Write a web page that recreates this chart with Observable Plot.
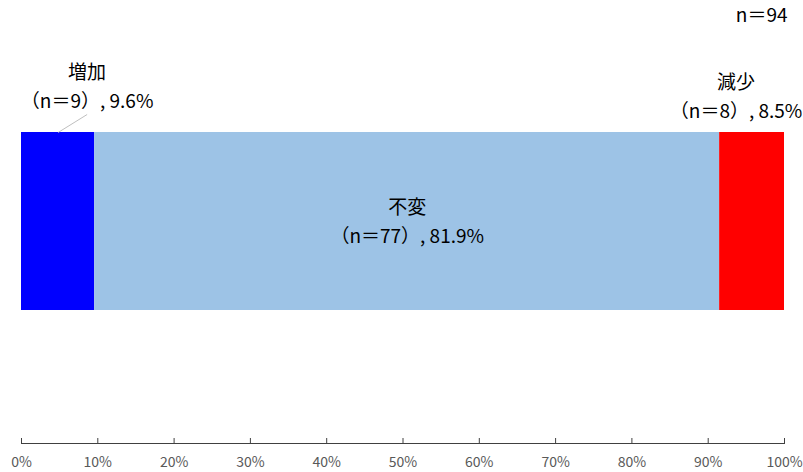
<!DOCTYPE html>
<html><head><meta charset="utf-8">
<script src="https://cdn.jsdelivr.net/npm/d3@7"></script>
<script src="https://cdn.jsdelivr.net/npm/@observablehq/plot@0.6"></script>
<style>
body{margin:0;background:#fff;}
svg{font-family:"Noto Sans CJK JP","Noto Sans",sans-serif;}
</style>
</head><body><div id="chart"></div>
<script>
const categories = ["増加", "不変", "減少"];
const counts = [9, 77, 8];
const shares = [0.096, 0.819, 0.085];
const colors = ["#0000FF", "#9DC3E6", "#FF0000"];
const total = 94;
const ticks = [0,0.1,0.2,0.3,0.4,0.5,0.6,0.7,0.8,0.9,1];

let acc = 0;
const data = categories.map((c, i) => {
  const d = {cat: c, n: counts[i], share: shares[i], x1: acc, x2: acc + shares[i],
    label: `${c}\n（n＝${counts[i]}）, ${(shares[i]*100).toFixed(1)}%`};
  acc += shares[i];
  return d;
});
// label placement (pixels) relative to the segment midpoint at the bar top / centre
const layout = {
  "増加": {dx: 29, dy: -48, y: 1},
  "不変": {dx: 0, dy: -2, y: 0.5},
  "減少": {dx: -16, dy: -38, y: 1}
};
const W = 803, H = 472, mL = 21, mR = 19, mB = 29;
const pxX = (W - mL - mR);
const barTop = 132, barBottom = 310;
const pxY = barBottom - barTop;

const fmt = d => `${Math.round(d*100)}%`;
const mid = d => (d.x1 + d.x2) / 2;

const plot = Plot.plot({
  width: W, height: H,
  marginLeft: mL, marginRight: mR, marginTop: 0, marginBottom: mB,
  x: {domain: [0, 1]},
  y: {domain: [0, 1], range: [barBottom, barTop], axis: null},
  color: {domain: categories, range: colors},
  marks: [
    Plot.rectX(data, {x1: "x1", x2: "x2", y1: () => 0, y2: () => 1, fill: "cat"}),
    Plot.frame({anchor: "bottom", stroke: "#404040"}),
    Plot.tickX(ticks, {x: d => d, stroke: "#404040", insetTop: H - mB - 5}),
    Plot.axisX({ticks, tickSize: 0, tickPadding: 14, fontSize: 14, fill: "#595959", tickFormat: fmt}),
    Plot.link(data.filter(d => d.cat === "増加"), {
      x1: mid, y1: () => 1,
      x2: d => mid(d) + 29 / pxX, y2: () => 1 + 18 / pxY,
      stroke: "#BFBFBF", strokeWidth: 1
    }),
    ...data.map(d => Plot.text([d], {
      x: mid, y: () => layout[d.cat].y, text: "label",
      dx: layout[d.cat].dx, dy: layout[d.cat].dy,
      fontSize: 19, fill: "#000", lineHeight: 1.52
    })),
    Plot.text([`n＝${total}`], {frameAnchor: "top-right", text: d => d, dx: 3, dy: 8, fontSize: 19, fill: "#000"})
  ]
});
document.getElementById("chart").appendChild(plot);
</script>
</body></html>
